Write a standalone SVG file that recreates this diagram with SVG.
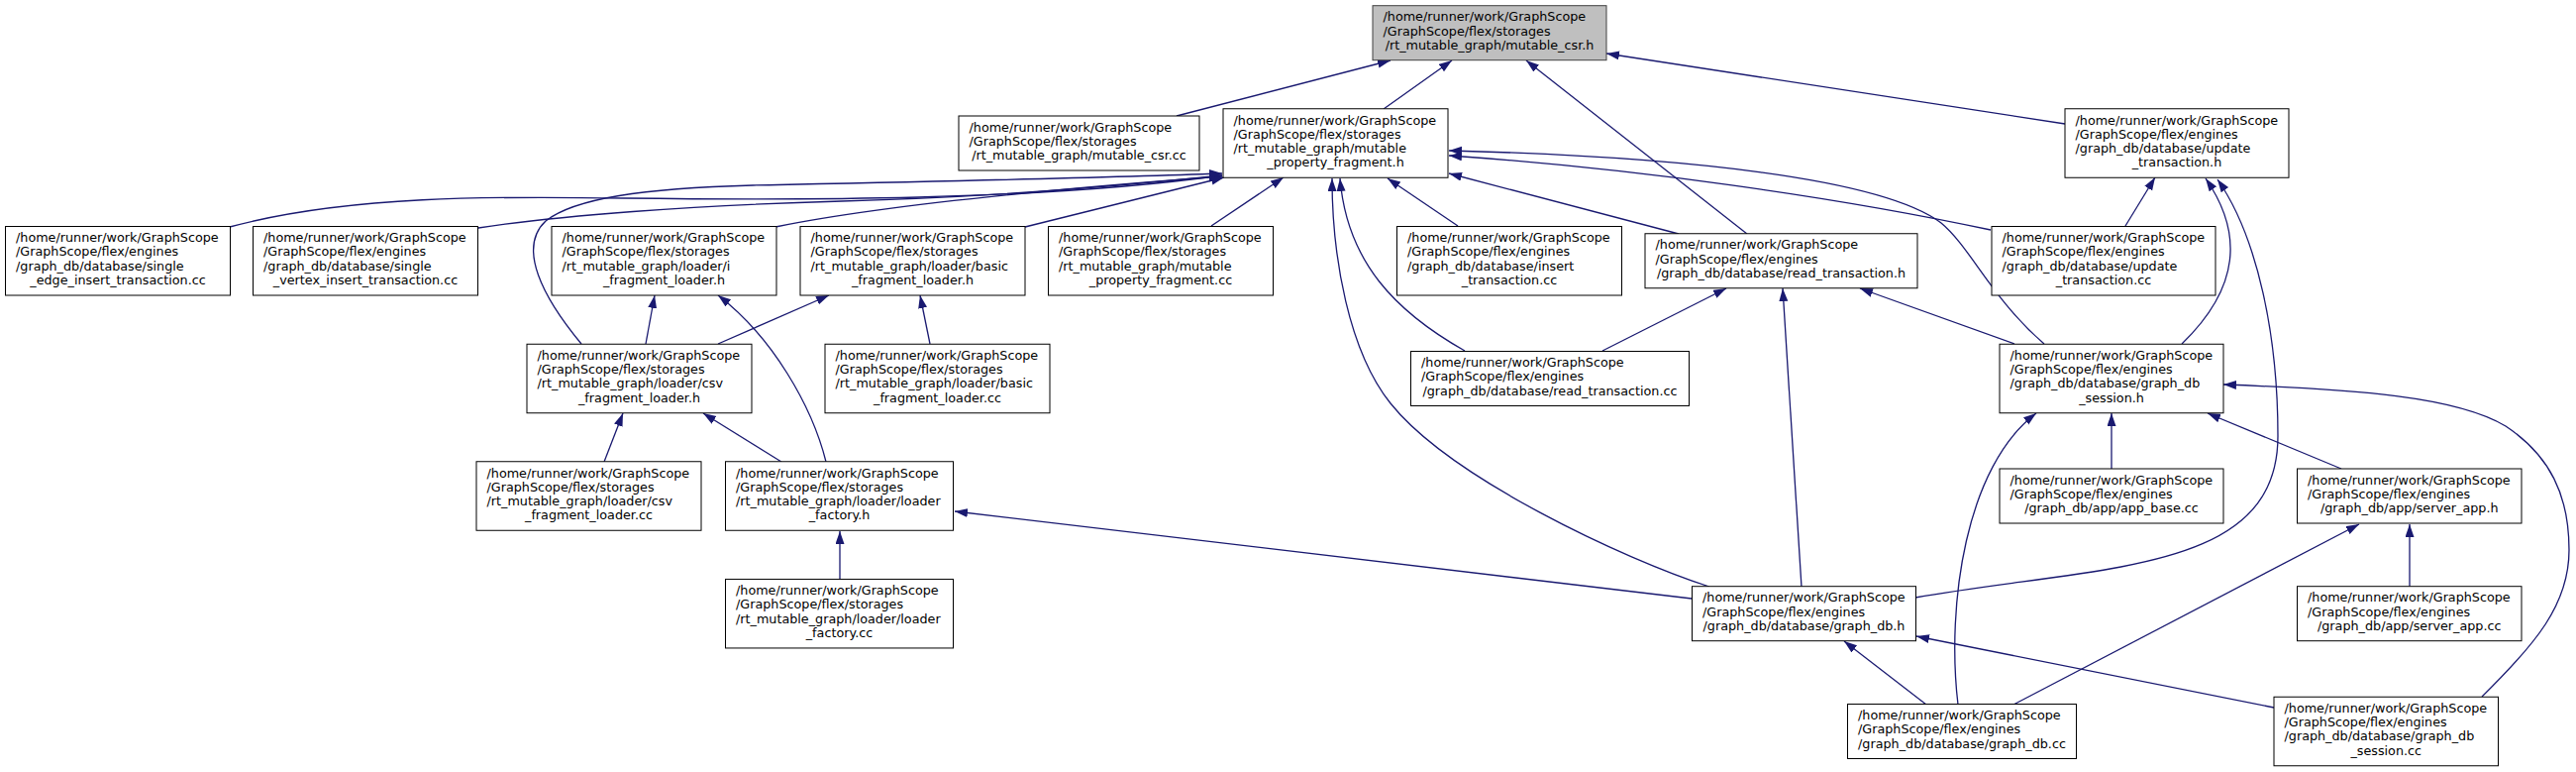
<svg xmlns="http://www.w3.org/2000/svg" width="2601" height="779" viewBox="0 0 2601 779">
<defs>
<style>
.n rect{fill:#fff;stroke:#000;stroke-width:1}
.n.g rect{fill:#bfbfbf;stroke:#404040}
.n text{font-family:"DejaVu Sans",sans-serif;font-size:12.75px;fill:#000}
.n text.c{text-anchor:middle}
.e path{fill:none;stroke:#191970;stroke-width:1.3;marker-end:url(#a)}
</style>
<marker id="a" markerUnits="userSpaceOnUse" markerWidth="14" markerHeight="10" refX="13" refY="4.5" orient="auto"><path d="M0,0L13,4.5L0,9z" fill="#191970"/></marker>
</defs>
<rect width="2601" height="779" fill="#fff"/>
<g id="edges" class="e">
<path d="M1188,117 L1404,61"/>
<path d="M1397,110 L1466,61"/>
<path d="M1764,236 L1541,61"/>
<path d="M2085,125 L1622,54"/>
<path d="M232,229 C350,197 500,198 630,200 C800,202 1050,203 1234,177"/>
<path d="M483,230 C560,218 700,207 850,203 C1000,199 1130,188 1234,177"/>
<path d="M783,229 C900,205 1100,188 1234,178"/>
<path d="M1035,229 L1236,179"/>
<path d="M587,347 C548,300 522,250 551,223 C580,200 650,190 760,187 C950,183 1100,180 1234,175"/>
<path d="M1223,228 L1296,179"/>
<path d="M1472,228 L1401,180"/>
<path d="M1695,236 L1463,175"/>
<path d="M2010,232 C1850,198 1650,170 1463,157"/>
<path d="M2064,347 C2010,300 1990,250 1960,225 C1900,180 1700,158 1463,152"/>
<path d="M1479,354 C1410,315 1360,265 1353,180"/>
<path d="M1726,592 C1639,564 1464,482 1404,407 C1362,354.5 1345,260 1345,180"/>
<path d="M2146,228 L2176,179"/>
<path d="M2203,347 C2262,290 2265,235 2227,180"/>
<path d="M1934,603 C2120,570 2300,580 2300,440 C2300,340 2280,240 2239,181"/>
<path d="M1618,354 L1743,291"/>
<path d="M1819,592 L1800,291"/>
<path d="M2034,347 L1878,291"/>
<path d="M652,347 L661,298"/>
<path d="M834,466 C820,410 780,340 725,298"/>
<path d="M725,347 L837,298"/>
<path d="M939,347 L929,298"/>
<path d="M610,466 L629,417"/>
<path d="M789,466 L710,417"/>
<path d="M848,585 L848,536"/>
<path d="M1708,604 L964,516"/>
<path d="M2132,473 L2132,417"/>
<path d="M2364,473 L2229,417"/>
<path d="M1977,711 C1965,610 1985,470 2056,417"/>
<path d="M2506,703 C2560,650 2594,610 2594,555 C2594,500 2575,460 2530,430 C2480,400 2380,393 2245,388"/>
<path d="M2433,592 L2433,529"/>
<path d="M2033,711 L2382,529"/>
<path d="M1945,711 L1862,647"/>
<path d="M2296,714 L1935,642"/>
</g>
<g id="mutable_csr_h" class="n g"><rect x="1386" y="5.7" width="236" height="55"/><text x="1396.5" y="21.3">/home/runner/work/GraphScope</text><text x="1396.5" y="35.5">/GraphScope/flex/storages</text><text class="c" x="1504" y="49.7">/rt_mutable_graph/mutable_csr.h</text></g>
<g id="mutable_csr_cc" class="n"><rect x="968" y="117" width="243" height="55"/><text x="978.5" y="132.6">/home/runner/work/GraphScope</text><text x="978.5" y="146.8">/GraphScope/flex/storages</text><text class="c" x="1089.5" y="161">/rt_mutable_graph/mutable_csr.cc</text></g>
<g id="mutable_property_fragment_h" class="n"><rect x="1235" y="109.75" width="227" height="69.5"/><text x="1245.5" y="125.5">/home/runner/work/GraphScope</text><text x="1245.5" y="139.7">/GraphScope/flex/storages</text><text x="1245.5" y="153.9">/rt_mutable_graph/mutable</text><text class="c" x="1348.5" y="168.1">_property_fragment.h</text></g>
<g id="update_transaction_h" class="n"><rect x="2085" y="109.75" width="226" height="69.5"/><text x="2095.5" y="125.5">/home/runner/work/GraphScope</text><text x="2095.5" y="139.7">/GraphScope/flex/engines</text><text x="2095.5" y="153.9">/graph_db/database/update</text><text class="c" x="2198" y="168.1">_transaction.h</text></g>
<g id="single_edge_insert_transaction_cc" class="n"><rect x="5.5" y="228.5" width="227" height="69.5"/><text x="16" y="244.25">/home/runner/work/GraphScope</text><text x="16" y="258.45">/GraphScope/flex/engines</text><text x="16" y="272.65">/graph_db/database/single</text><text class="c" x="119" y="286.85">_edge_insert_transaction.cc</text></g>
<g id="single_vertex_insert_transaction_cc" class="n"><rect x="255.5" y="228.5" width="227" height="69.5"/><text x="266" y="244.25">/home/runner/work/GraphScope</text><text x="266" y="258.45">/GraphScope/flex/engines</text><text x="266" y="272.65">/graph_db/database/single</text><text class="c" x="369" y="286.85">_vertex_insert_transaction.cc</text></g>
<g id="i_fragment_loader_h" class="n"><rect x="557" y="228.5" width="227" height="69.5"/><text x="567.5" y="244.25">/home/runner/work/GraphScope</text><text x="567.5" y="258.45">/GraphScope/flex/storages</text><text x="567.5" y="272.65">/rt_mutable_graph/loader/i</text><text class="c" x="670.5" y="286.85">_fragment_loader.h</text></g>
<g id="basic_fragment_loader_h" class="n"><rect x="808" y="228.5" width="227" height="69.5"/><text x="818.5" y="244.25">/home/runner/work/GraphScope</text><text x="818.5" y="258.45">/GraphScope/flex/storages</text><text x="818.5" y="272.65">/rt_mutable_graph/loader/basic</text><text class="c" x="921.5" y="286.85">_fragment_loader.h</text></g>
<g id="mutable_property_fragment_cc" class="n"><rect x="1058.5" y="228.5" width="227" height="69.5"/><text x="1069" y="244.25">/home/runner/work/GraphScope</text><text x="1069" y="258.45">/GraphScope/flex/storages</text><text x="1069" y="272.65">/rt_mutable_graph/mutable</text><text class="c" x="1172" y="286.85">_property_fragment.cc</text></g>
<g id="insert_transaction_cc" class="n"><rect x="1410.5" y="228.5" width="227" height="69.5"/><text x="1421" y="244.25">/home/runner/work/GraphScope</text><text x="1421" y="258.45">/GraphScope/flex/engines</text><text x="1421" y="272.65">/graph_db/database/insert</text><text class="c" x="1524" y="286.85">_transaction.cc</text></g>
<g id="read_transaction_h" class="n"><rect x="1661" y="235.75" width="275" height="55"/><text x="1671.5" y="251.35">/home/runner/work/GraphScope</text><text x="1671.5" y="265.55">/GraphScope/flex/engines</text><text class="c" x="1798.5" y="279.75">/graph_db/database/read_transaction.h</text></g>
<g id="update_transaction_cc" class="n"><rect x="2011" y="228.5" width="226" height="69.5"/><text x="2021.5" y="244.25">/home/runner/work/GraphScope</text><text x="2021.5" y="258.45">/GraphScope/flex/engines</text><text x="2021.5" y="272.65">/graph_db/database/update</text><text class="c" x="2124" y="286.85">_transaction.cc</text></g>
<g id="csv_fragment_loader_h" class="n"><rect x="532" y="347.25" width="227" height="69.5"/><text x="542.5" y="363">/home/runner/work/GraphScope</text><text x="542.5" y="377.2">/GraphScope/flex/storages</text><text x="542.5" y="391.4">/rt_mutable_graph/loader/csv</text><text class="c" x="645.5" y="405.6">_fragment_loader.h</text></g>
<g id="basic_fragment_loader_cc" class="n"><rect x="833" y="347.25" width="227" height="69.5"/><text x="843.5" y="363">/home/runner/work/GraphScope</text><text x="843.5" y="377.2">/GraphScope/flex/storages</text><text x="843.5" y="391.4">/rt_mutable_graph/loader/basic</text><text class="c" x="946.5" y="405.6">_fragment_loader.cc</text></g>
<g id="read_transaction_cc" class="n"><rect x="1424.5" y="354.5" width="281" height="55"/><text x="1435" y="370.1">/home/runner/work/GraphScope</text><text x="1435" y="384.3">/GraphScope/flex/engines</text><text class="c" x="1565" y="398.5">/graph_db/database/read_transaction.cc</text></g>
<g id="graph_db_session_h" class="n"><rect x="2019" y="347.25" width="226" height="69.5"/><text x="2029.5" y="363">/home/runner/work/GraphScope</text><text x="2029.5" y="377.2">/GraphScope/flex/engines</text><text x="2029.5" y="391.4">/graph_db/database/graph_db</text><text class="c" x="2132" y="405.6">_session.h</text></g>
<g id="csv_fragment_loader_cc" class="n"><rect x="481" y="465.75" width="227" height="69.5"/><text x="491.5" y="481.5">/home/runner/work/GraphScope</text><text x="491.5" y="495.7">/GraphScope/flex/storages</text><text x="491.5" y="509.9">/rt_mutable_graph/loader/csv</text><text class="c" x="594.5" y="524.1">_fragment_loader.cc</text></g>
<g id="loader_factory_h" class="n"><rect x="732.5" y="465.75" width="230" height="69.5"/><text x="743" y="481.5">/home/runner/work/GraphScope</text><text x="743" y="495.7">/GraphScope/flex/storages</text><text x="743" y="509.9">/rt_mutable_graph/loader/loader</text><text class="c" x="847.5" y="524.1">_factory.h</text></g>
<g id="app_base_cc" class="n"><rect x="2019" y="473" width="226" height="55"/><text x="2029.5" y="488.6">/home/runner/work/GraphScope</text><text x="2029.5" y="502.8">/GraphScope/flex/engines</text><text class="c" x="2132" y="517">/graph_db/app/app_base.cc</text></g>
<g id="server_app_h" class="n"><rect x="2319.5" y="473" width="226.5" height="55"/><text x="2330" y="488.6">/home/runner/work/GraphScope</text><text x="2330" y="502.8">/GraphScope/flex/engines</text><text class="c" x="2432.75" y="517">/graph_db/app/server_app.h</text></g>
<g id="loader_factory_cc" class="n"><rect x="732.5" y="584.45" width="230" height="69.5"/><text x="743" y="600.2">/home/runner/work/GraphScope</text><text x="743" y="614.4">/GraphScope/flex/storages</text><text x="743" y="628.6">/rt_mutable_graph/loader/loader</text><text class="c" x="847.5" y="642.8">_factory.cc</text></g>
<g id="graph_db_h" class="n"><rect x="1708.5" y="591.7" width="226" height="55"/><text x="1719" y="607.3">/home/runner/work/GraphScope</text><text x="1719" y="621.5">/GraphScope/flex/engines</text><text class="c" x="1821.5" y="635.7">/graph_db/database/graph_db.h</text></g>
<g id="server_app_cc" class="n"><rect x="2319.5" y="591.7" width="226.5" height="55"/><text x="2330" y="607.3">/home/runner/work/GraphScope</text><text x="2330" y="621.5">/GraphScope/flex/engines</text><text class="c" x="2432.75" y="635.7">/graph_db/app/server_app.cc</text></g>
<g id="graph_db_cc" class="n"><rect x="1865.5" y="710.5" width="231" height="55"/><text x="1876" y="726.1">/home/runner/work/GraphScope</text><text x="1876" y="740.3">/GraphScope/flex/engines</text><text class="c" x="1981" y="754.5">/graph_db/database/graph_db.cc</text></g>
<g id="graph_db_session_cc" class="n"><rect x="2296" y="703.25" width="226.5" height="69.5"/><text x="2306.5" y="719">/home/runner/work/GraphScope</text><text x="2306.5" y="733.2">/GraphScope/flex/engines</text><text x="2306.5" y="747.4">/graph_db/database/graph_db</text><text class="c" x="2409.25" y="761.6">_session.cc</text></g>
</svg>
